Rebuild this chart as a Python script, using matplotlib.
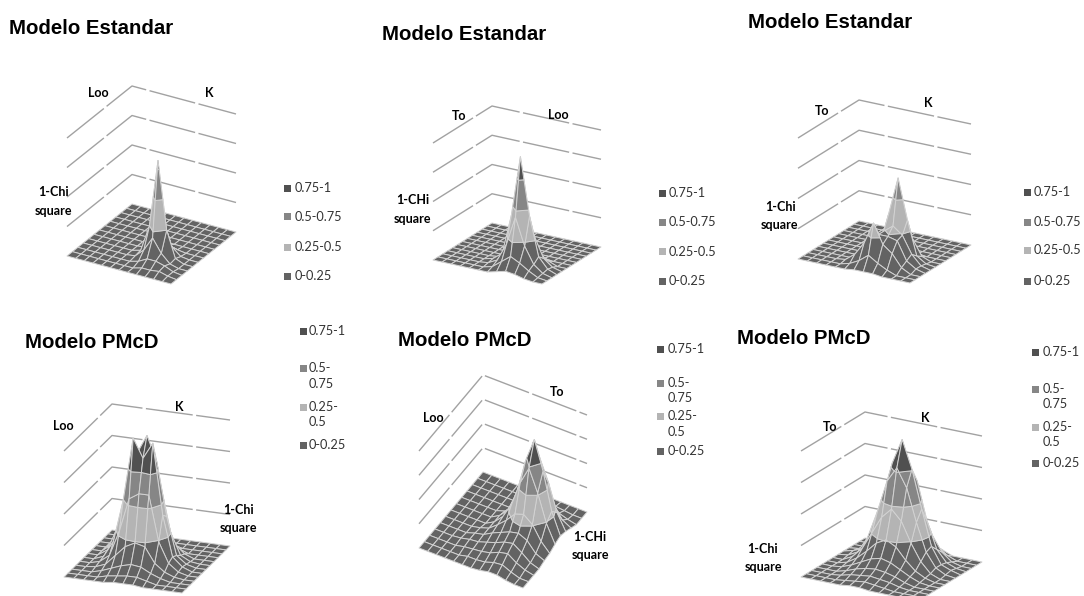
import math
import numpy as np
import matplotlib
matplotlib.use("Agg")
import matplotlib.pyplot as plt
from matplotlib.patches import Rectangle
from mpl_toolkits.mplot3d import proj3d
from mpl_toolkits.mplot3d.art3d import Poly3DCollection

# ---------- data ----------
band_edges = [0.0, 0.25, 0.5, 0.75, 1.0]
band_labels = ["0-0.25", "0.25-0.5", "0.5-0.75", "0.75-1"]
band_colors = ["#636363", "#b4b4b4", "#868686", "#505050"]
wall_levels = [0.25, 0.5, 0.75, 1.0]

z_est_loo_k = [
 [0]*13, [0]*13, [0]*13, [0]*13, [0]*13, [0]*13,
 [0,0,0,0,0,0,0,.02,.03,.01,0,0,0],
 [0,0,0,0,0,0,.01,.08,.22,.07,.01,0,0],
 [0,0,0,0,0,0,.02,.24,.82,.25,.03,0,0],
 [0,0,0,0,0,0,.01,.08,.2,.09,.02,0,0],
 [0,0,0,0,0,0,0,.02,.06,.06,.04,.01,0],
 [0,0,0,0,0,0,0,0,.02,.02,.03,.01,0],
 [0]*13,
]
z_est_to_loo = [
 [0]*13, [0]*13, [0]*13, [0]*13, [0]*13, [0]*13,
 [0,0,0,0,0,0,0,.02,.03,.01,0,0,0],
 [0,0,0,0,0,0,.02,.06,.12,.08,.03,0,0],
 [0,0,0,0,0,.01,.05,.22,.48,.25,.08,.02,0],
 [0,0,0,0,0,.02,.08,.42,.94,.45,.12,.03,0],
 [0,0,0,0,0,.01,.05,.2,.45,.22,.08,.02,0],
 [0,0,0,0,0,0,.02,.08,.14,.1,.05,.01,0],
 [0,0,0,0,0,0,0,.02,.04,.03,.01,0,0],
]
z_est_to_k = [
 [0]*13, [0]*13, [0]*13, [0]*13, [0]*13,
 [0,0,0,0,0,0,0,.02,.03,.01,0,0,0],
 [0,0,0,0,0,0,.03,.14,.3,.16,.03,0,0],
 [0,0,0,0,0,.01,.06,.36,.67,.34,.06,.01,0],
 [0,0,0,0,0,.02,.12,.24,.3,.24,.1,.02,0],
 [0,0,0,0,0,.04,.2,.24,.24,.22,.07,.02,0],
 [0,0,0,0,.01,.07,.18,.36,.2,.14,.04,0,0],
 [0,0,0,0,0,.02,.06,.12,.07,.03,0,0,0],
 [0,0,0,0,0,0,.01,.01,.01,0,0,0,0],
]
z_pmcd_loo_k = [
 [0]*13,
 [0,0,0,0,.01,.01,.01,0,0,0,0,0,0],
 [0,0,0,.03,.05,.05,.04,.02,0,0,0,0,0],
 [0,0,.02,.08,.13,.16,.14,.08,.03,0,0,0,0],
 [0,0,.05,.2,.35,.48,.45,.28,.1,.03,0,0,0],
 [0,0,.06,.28,.55,.74,.78,.58,.22,.05,.01,0,0],
 [0,0,.05,.24,.58,.85,1.0,.8,.38,.08,.02,0,0],
 [0,0,.03,.16,.5,1.0,.85,.98,.42,.1,.03,0,0],
 [0,0,.02,.08,.28,.55,.6,.6,.24,.08,.02,0,0],
 [0,0,.01,.04,.12,.2,.24,.22,.1,.04,.01,0,0],
 [0,0,0,.02,.05,.08,.1,.09,.05,.02,0,0,0],
 [0,0,0,0,.02,.03,.04,.04,.02,0,0,0,0],
 [0,0,0,0,0,.01,.01,.01,0,0,0,0,0],
]
z_pmcd_loo_to = [
 [0]*13,
 [0,0,0,0,0,0,0,0,.02,.02,.01,0,0],
 [0,0,0,0,0,0,0,.02,.05,.07,.05,.02,0],
 [0,0,0,0,0,0,.03,.08,.2,.28,.2,.08,.03],
 [0,0,0,0,0,.03,.1,.26,.52,.72,.5,.22,.06],
 [0,0,0,0,0,.05,.14,.36,.72,.97,.68,.3,.08],
 [0,0,0,0,0,.05,.14,.3,.56,.74,.52,.24,.06],
 [0,0,0,0,.02,.05,.12,.2,.3,.33,.26,.12,.03],
 [0,0,0,0,.03,.05,.1,.14,.18,.2,.16,.06,.02],
 [0,0,0,.01,.03,.04,.07,.1,.14,.16,.1,.03,0],
 [0,0,0,0,.02,.03,.04,.06,.1,.12,.06,.02,0],
 [0,0,0,0,0,.02,.02,.03,.06,.07,.03,0,0],
 [0,0,0,0,0,0,0,.01,.03,.03,.01,0,0],
]
z_pmcd_to_k = [
 [0,0,0,0,.03,.06,.08,.06,.03,0,0,0,0],
 [0,0,0,.03,.08,.15,.2,.15,.08,.03,0,0,0],
 [0,0,.02,.08,.2,.38,.48,.38,.2,.08,.02,0,0],
 [0,.01,.04,.14,.36,.66,.76,.64,.34,.13,.04,.01,0],
 [0,.02,.05,.2,.48,.78,.98,.76,.46,.18,.05,.02,0],
 [0,.01,.05,.18,.4,.66,.78,.64,.38,.16,.05,.01,0],
 [0,0,.04,.12,.26,.4,.48,.4,.24,.11,.03,0,0],
 [0,0,.02,.07,.14,.22,.26,.22,.13,.06,.02,0,0],
 [0,0,.01,.04,.08,.12,.14,.12,.08,.04,.01,0,0],
 [0,0,0,.02,.05,.07,.08,.07,.05,.02,0,0,0],
 [0,0,0,.01,.03,.04,.05,.04,.03,.01,0,0,0],
 [0,0,0,0,.01,.02,.03,.02,.01,0,0,0,0],
 [0,0,0,0,0,.01,.01,0,0,0,0,0,0],
]

# ---------- layout (pixels of the 1084x596 picture) ----------
W, H = 1084, 596
plt.rcParams["font.family"] = ["Lato", "DejaVu Sans"]
fig = plt.figure(figsize=(W / 100, H / 100), dpi=100, facecolor="white")

panels = [
 dict(z=z_est_loo_k, back=(132, 204), u=(-65, 52), v=(104, 28), w=118,
      title=("Modelo Estandar", 9, 28),
      labels=[("Loo", 98, 93), ("K", 209, 93), ("1-Chi", 53, 192), ("square", 53, 211)],
      sq=287, tx=295, leg=[(276, "0-0.25", 0), (247, "0.25-0.5", 1), (217, "0.5-0.75", 2), (188, "0.75-1", 3)]),
 dict(z=z_est_to_loo, back=(492, 223), u=(-59, 37), v=(109, 24), w=117,
      title=("Modelo Estandar", 382, 34),
      labels=[("To", 459, 116), ("Loo", 558, 115), ("1-CHi", 413, 200), ("square", 412, 219)],
      sq=662, tx=669, leg=[(281, "0-0.25", 0), (252, "0.25-0.5", 1), (222, "0.5-0.75", 2), (193, "0.75-1", 3)]),
 dict(z=z_est_to_k, back=(859, 221), u=(-61, 38), v=(112, 24), w=121,
      title=("Modelo Estandar", 748, 22),
      labels=[("To", 822, 111), ("K", 928, 103), ("1-Chi", 780, 207), ("square", 779, 225)],
      sq=1027, tx=1034, leg=[(281, "0-0.25", 0), (250, "0.25-0.5", 1), (222, "0.5-0.75", 2), (192, "0.75-1", 3)]),
 dict(z=z_pmcd_loo_k, back=(112, 530), u=(-48, 47), v=(118, 16), w=126,
      title=("Modelo PMcD", 25, 343),
      labels=[("Loo", 63, 426), ("K", 179, 407), ("1-Chi", 238, 510), ("square", 238, 528)],
      sq=303, tx=309, leg=[(445, "0-0.25", 0), (407, "0.25-\n0.5", 1), (368, "0.5-\n0.75", 2), (331, "0.75-1", 3)]),
 dict(z=z_pmcd_loo_to, back=(483, 472), u=(-64, 76), v=(104, 40), w=97,
      title=("Modelo PMcD", 398, 340),
      labels=[("Loo", 433, 418), ("To", 557, 392), ("1-CHi", 590, 537), ("square", 590, 555)],
      sq=660, tx=668, leg=[(451, "0-0.25", 0), (416, "0.25-\n0.5", 1), (383, "0.5-\n0.75", 2), (349, "0.75-1", 3)]),
 dict(z=z_pmcd_to_k, back=(865, 538), u=(-64, 39), v=(117, 24), w=126,
      title=("Modelo PMcD", 737, 339),
      labels=[("To", 830, 427), ("K", 925, 418), ("1-Chi", 762, 549), ("square", 763, 567)],
      sq=1035, tx=1043, leg=[(463, "0-0.25", 0), (427, "0.25-\n0.5", 1), (389, "0.5-\n0.75", 2), (352, "0.75-1", 3)]),
]


def clip_band(poly, lo, hi):
    """Cut a grid cell (list of xyz) to the part lying between two z levels."""
    def cut(pts, level, keep_above):
        out = []
        for k, p in enumerate(pts):
            q = pts[(k + 1) % len(pts)]
            pin = p[2] >= level if keep_above else p[2] <= level
            qin = q[2] >= level if keep_above else q[2] <= level
            if pin:
                out.append(p)
            if pin != qin:
                t = (level - p[2]) / (q[2] - p[2])
                out.append(tuple(p[m] + t * (q[m] - p[m]) for m in range(3)))
        return out
    pts = cut(poly, lo, True)
    if len(pts) >= 3:
        pts = cut(pts, hi, False)
    return pts if len(pts) >= 3 else None


def draw_surface(p):
    ux, uy = p["u"]
    vx, vy = p["v"]
    w = p["w"]
    tan_phi = math.sqrt((abs(ux) / uy) * (vy / vx))
    sin_el = tan_phi / (abs(ux) / uy)
    phi = math.atan(tan_phi)
    el = math.asin(sin_el)
    a = abs(ux) / math.sin(phi)
    b = vx / math.cos(phi)
    c = w / math.cos(el)

    ax = fig.add_axes([0, 0, 1, 1], projection="3d", proj_type="ortho")
    ax.patch.set_alpha(0)
    ax.set_axis_off()
    ax.computed_zorder = False
    ax.set_xlim(0, 1)
    ax.set_ylim(0, 1)
    ax.set_zlim(0, 1)
    ax.view_init(elev=math.degrees(el), azim=math.degrees(phi))
    ax.set_box_aspect((a, b, c))

    # Fit the projected box to the measured corner positions.
    M = ax.get_proj()
    x0, y0, _ = proj3d.proj_transform(0, 0, 0, M)
    x1, y1, _ = proj3d.proj_transform(0, 1, 0, M)
    xl = ax.viewLim.intervalx
    yl = ax.viewLim.intervaly
    span = xl[1] - xl[0]
    L = vx / (x1 - x0) * span
    left = p["back"][0] - (x0 - xl[0]) / span * L
    bottom = (H - p["back"][1]) - (y0 - yl[0]) / (yl[1] - yl[0]) * L
    ax.set_position([left / W, bottom / H, L / W, L / H])

    # Walls
    for lev in wall_levels:
        ax.plot([1, 0, 0], [0, 0, 1], [lev, lev, lev], color="#a2a2a2", lw=1.0,
                ls=(0, (34, 2.5)), clip_on=False, zorder=1)

    # Surface, one polygon per band per cell
    Z = np.array(p["z"], dtype=float)
    n, m = Z.shape
    xs = np.linspace(0, 1, n)
    ys = np.linspace(0, 1, m)
    polys, faces = [], []
    for i in range(n - 1):
        for j in range(m - 1):
            quad = [(xs[i], ys[j], Z[i, j]), (xs[i + 1], ys[j], Z[i + 1, j]),
                    (xs[i + 1], ys[j + 1], Z[i + 1, j + 1]), (xs[i], ys[j + 1], Z[i, j + 1])]
            for k in range(len(band_colors)):
                piece = clip_band(quad, band_edges[k], band_edges[k + 1])
                if piece is None:
                    continue
                zmax = max(q[2] for q in quad)
                zmin = min(q[2] for q in quad)
                if zmax == zmin and k > 0 and zmax == band_edges[k]:
                    continue
                polys.append(piece)
                faces.append(band_colors[k])
    coll = Poly3DCollection(polys, facecolors=faces, edgecolors="#d2d2d2",
                            linewidths=0.7, zsort="average", zorder=2)
    coll.set_clip_on(False)
    ax.add_collection3d(coll)
    return ax


def px(x, y):
    return x / W, 1 - y / H


for p in panels:
    draw_surface(p)
    t, tx_, ty_ = p["title"]
    fig.text(*px(tx_, ty_), t, family="Liberation Sans", fontweight="bold",
             fontsize=14.7, ha="left", va="center", color="black")
    for s, lx, ly in p["labels"]:
        fig.text(*px(lx, ly), s, fontweight="bold", fontsize=9.0, ha="center",
                 va="center", color="black")
    for ly, s, k in p["leg"]:
        fig.add_artist(Rectangle((p["sq"] / W - 3.5 / W, 1 - (ly + 3.5) / H), 7 / W, 7 / H,
                                 transform=fig.transFigure, facecolor=band_colors[k],
                                 edgecolor="none"))
        fig.text(*px(p["tx"], ly - 6), s, fontsize=9.2, ha="left", va="top",
                 color="#333333", linespacing=1.35)

fig.savefig("out.png", dpi=100, facecolor="white")
